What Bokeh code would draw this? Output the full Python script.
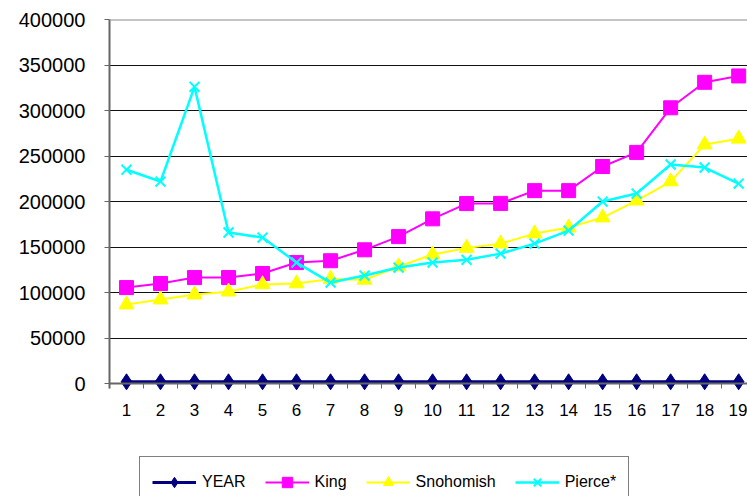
from bokeh.plotting import figure
from bokeh.models import Range1d, FixedTicker, Legend, LegendItem, Span
from bokeh.embed import file_html
from bokeh.resources import INLINE

periods = list(range(1, 20))
year = [1990 + i for i in range(19)]
king = [105500, 110000, 116500, 116500, 121000, 133000, 135000, 147000, 161500, 181000,
        197800, 198000, 212000, 212000, 238500, 254000, 303000, 331000, 338000]
snohomish = [86800, 92300, 97800, 101000, 109000, 110000, 115000, 114000, 128600, 141800,
             149000, 153800, 164800, 171400, 182400, 201000, 222000, 262600, 269000]
pierce = [235000, 222000, 326000, 166000, 160400, 133000, 111000, 118700, 127500, 133000,
          136000, 142800, 153800, 168000, 200000, 208800, 240700, 237400, 219800]
y_ticks = [0, 50000, 100000, 150000, 200000, 250000, 300000, 350000, 400000]

FONT = "Liberation Sans"

p = figure(width=747, height=496, output_backend="svg", toolbar_location=None,
           x_range=Range1d(0.5, 19.26), y_range=Range1d(-124000, 400000),
           min_border_left=109, min_border_right=0, min_border_top=19, min_border_bottom=0)
p.outline_line_color = None
p.background_fill_color = "white"

# axes
p.yaxis.ticker = FixedTicker(ticks=y_ticks)
p.yaxis.bounds = (-5500, 400000)
p.yaxis.formatter.use_scientific = False
p.yaxis.major_label_text_font = FONT
p.yaxis.major_label_text_font_size = "20px"
p.yaxis.major_label_text_color = "black"
p.yaxis.axis_line_color = "#666666"
p.yaxis.axis_line_width = 2
p.yaxis.major_tick_line_color = "#666666"
p.yaxis.major_tick_out = 5
p.yaxis.major_tick_in = 0
p.yaxis.minor_tick_line_color = None
p.yaxis.major_label_standoff = 19

bounds = [i + 0.5 for i in range(0, 20)]
p.xaxis.fixed_location = 0
p.xaxis.ticker = FixedTicker(ticks=periods, minor_ticks=bounds)
p.xaxis.major_label_text_font = FONT
p.xaxis.major_label_text_font_size = "17px"
p.xaxis.major_label_text_color = "black"
p.xaxis.axis_line_color = "#666666"
p.xaxis.axis_line_width = 2
p.xaxis.major_tick_line_color = None
p.xaxis.major_tick_out = 5
p.xaxis.major_tick_in = 0
p.xaxis.minor_tick_line_color = "#666666"
p.xaxis.minor_tick_out = 5
p.xaxis.minor_tick_in = 0
p.xaxis.major_label_standoff = 15

p.xgrid.grid_line_color = None
p.ygrid.ticker = FixedTicker(ticks=y_ticks[1:-1])
p.ygrid.grid_line_color = "#111111"
p.ygrid.grid_line_width = 1

p.add_layout(Span(location=400000, dimension="width", line_color="#888888", line_width=2))

# series
r_year_l = p.line(periods, year, line_color="#000080", line_width=3)
r_year_m = p.scatter(periods, year, marker="diamond", size=16, fill_color="#000080", line_color="#000080")
r_king_l = p.line(periods, king, line_color="#FF00FF", line_width=2)
r_king_m = p.scatter(periods, king, marker="square", size=14, fill_color="#FF00FF", line_color="#FF00FF")
r_sno_l = p.line(periods, snohomish, line_color="#FFFF00", line_width=2)
r_sno_m = p.scatter(periods, snohomish, marker="triangle", size=15, fill_color="#FFFF00", line_color="#FFFF00")
r_pie_l = p.line(periods, pierce, line_color="#00FFFF", line_width=2.5)
r_pie_m = p.scatter(periods, pierce, marker="x", size=14, line_color="#00FFFF", line_width=2)

legend = Legend(items=[
    LegendItem(label="YEAR", renderers=[r_year_l, r_year_m]),
    LegendItem(label="King", renderers=[r_king_l, r_king_m]),
    LegendItem(label="Snohomish", renderers=[r_sno_l, r_sno_m]),
    LegendItem(label="Pierce*", renderers=[r_pie_l, r_pie_m]),
], orientation="horizontal", location=(30, -12))
legend.label_text_font = FONT
legend.label_text_font_size = "16px"
legend.label_text_color = "black"
legend.glyph_width = 44
legend.glyph_height = 26
legend.label_standoff = 6
legend.spacing = 19
legend.padding = 12
legend.margin = 0
legend.border_line_color = "black"
legend.border_line_width = 1
legend.background_fill_alpha = 1
p.add_layout(legend, "center")

open("out.html", "w").write(file_html(p, INLINE))
